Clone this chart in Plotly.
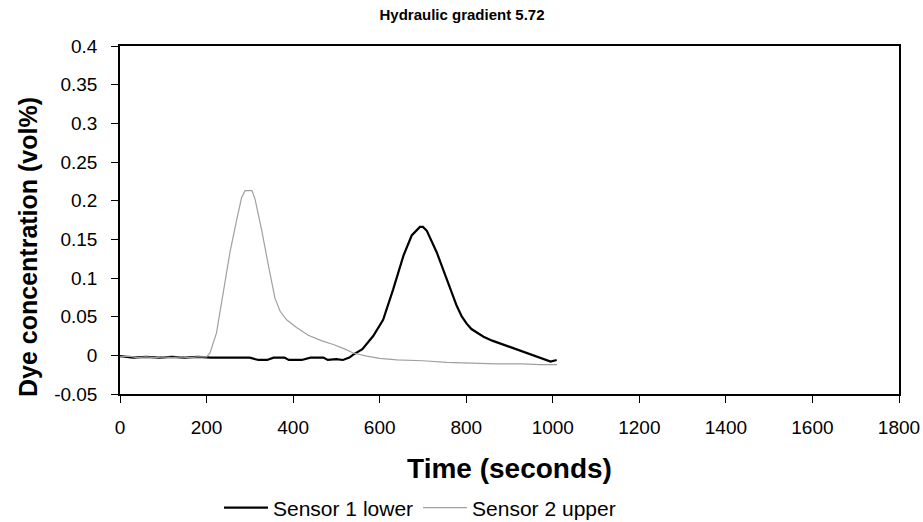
import plotly.graph_objects as go

# ---- data ----
s1_time = [0, 30, 60, 90, 120, 150, 180, 210, 250, 300, 320, 340, 355, 380, 390, 420, 440, 470,
           480, 500, 515, 530, 539, 560, 585, 608, 631, 655, 674, 693, 700, 709, 732, 755, 778,
           790, 801, 812, 825, 840, 860, 885, 910, 940, 960, 975, 986, 995, 1009]
s1_conc = [-0.001, -0.003, -0.002, -0.003, -0.002, -0.003, -0.002, -0.003, -0.003, -0.003, -0.006,
           -0.006, -0.003, -0.003, -0.006, -0.006, -0.003, -0.003, -0.006, -0.005, -0.006, -0.003,
           0.001, 0.008, 0.025, 0.046, 0.085, 0.129, 0.155, 0.166, 0.166, 0.161, 0.133, 0.098,
           0.064, 0.050, 0.041, 0.034, 0.029, 0.024, 0.019, 0.014, 0.009, 0.003, -0.001, -0.004,
           -0.006, -0.008, -0.006]

s2_time = [0, 20, 40, 60, 80, 100, 120, 140, 160, 180, 200, 208, 223, 239, 254, 270, 281, 289,
           305, 312, 327, 343, 358, 370, 385, 408, 435, 465, 493, 520, 539, 570, 600, 640, 700,
           755, 810, 870, 930, 970, 1010]
s2_conc = [-0.002, -0.001, -0.003, -0.002, -0.003, -0.002, -0.003, -0.002, -0.003, -0.002, -0.002,
           0.003, 0.029, 0.085, 0.133, 0.176, 0.204, 0.213, 0.213, 0.202, 0.163, 0.116, 0.074,
           0.057, 0.046, 0.036, 0.026, 0.019, 0.014, 0.008, 0.003, -0.001, -0.004, -0.006, -0.007,
           -0.009, -0.010, -0.011, -0.011, -0.012, -0.012]

y_tickvals = [-0.05, 0, 0.05, 0.1, 0.15, 0.2, 0.25, 0.3, 0.35, 0.4]
y_ticktext = ["-0.05", "0", "0.05", "0.1", "0.15", "0.2", "0.25", "0.3", "0.35", "0.4"]
x_tickvals = [0, 200, 400, 600, 800, 1000, 1200, 1400, 1600, 1800]

FONT = "Liberation Sans, Arial, sans-serif"

fig = go.Figure()
fig.add_trace(go.Scatter(x=s1_time, y=s1_conc, mode="lines", name="Sensor 1 lower",
                         line=dict(color="black", width=2.2)))
fig.add_trace(go.Scatter(x=s2_time, y=s2_conc, mode="lines", name="Sensor 2 upper",
                         line=dict(color="#a0a0a0", width=1.2)))

fig.update_layout(
    width=923, height=522,
    margin=dict(l=120, r=24, t=46, b=128, autoexpand=False),
    paper_bgcolor="white", plot_bgcolor="white",
    font=dict(family=FONT, color="black"),
    title=dict(text="<b>Hydraulic gradient 5.72</b>", x=462 / 923, xanchor="center",
               y=1 - 15 / 522, yanchor="middle", font=dict(size=15, family=FONT)),
    showlegend=True,
    legend=dict(orientation="h", x=(420 - 120) / 779, xanchor="center",
                y=(394 - 508) / 348, yanchor="middle",
                font=dict(size=21, family=FONT), bgcolor="rgba(0,0,0,0)", itemwidth=44),
    annotations=[dict(text="<b>Dye concentration (vol%)</b>", textangle=-90,
                      xref="paper", yref="paper",
                      x=(28 - 120) / 779, y=(394 - 247) / 348,
                      xanchor="center", yanchor="middle", showarrow=False,
                      font=dict(size=25, family=FONT))],
)
fig.update_xaxes(range=[0, 1800], tickvals=x_tickvals, showgrid=False, zeroline=False,
                 showline=True, linecolor="black", linewidth=1.5, mirror=True,
                 ticks="outside", ticklen=7, tickcolor="black", ticklabelstandoff=8,
                 automargin=False,
                 tickfont=dict(size=19, family=FONT),
                 title=dict(text="<b>Time (seconds)</b>", font=dict(size=28, family=FONT),
                            standoff=22))
fig.update_yaxes(range=[-0.05, 0.4], tickvals=y_tickvals, ticktext=y_ticktext, showgrid=False,
                 zeroline=False, showline=True, linecolor="black", linewidth=1.5, mirror=True,
                 ticks="outside", ticklen=7, tickcolor="black", ticklabelstandoff=10,
                 automargin=False,
                 tickfont=dict(size=19, family=FONT))

fig.write_html("out.html")
